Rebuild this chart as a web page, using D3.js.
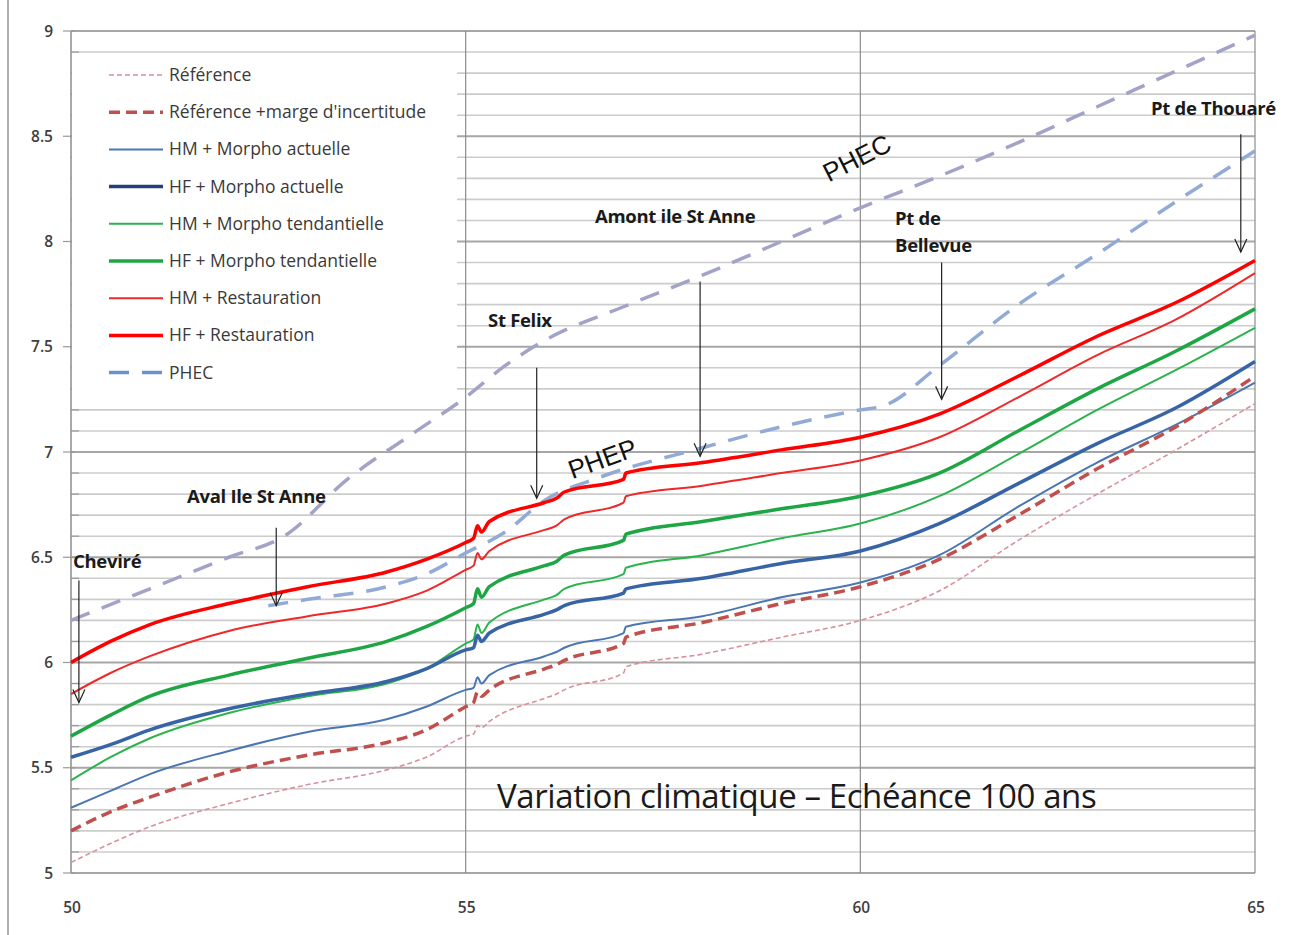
<!DOCTYPE html>
<html>
<head>
<meta charset="utf-8">
<script src="https://cdn.jsdelivr.net/npm/d3@7"></script>
<style>
  body { margin: 0; background: #fff; }
  svg { display: block; font-family: "Open Sans", sans-serif; }
</style>
</head>
<body>
<div id="container"></div>
<script>
// distance (km) and water levels
const xKm = [50, 50.5, 51, 52, 53, 54, 54.5, 55, 55.1, 55.15, 55.2, 55.3, 56, 56.15, 56.25, 57, 57.03, 58, 59, 60, 61, 62, 63, 64, 65];

const reference = [5.05, 5.14, 5.22, 5.33, 5.42, 5.49, 5.55, 5.65, 5.66, 5.70, 5.69, 5.72, 5.83, 5.85, 5.87, 5.95, 5.98, 6.04, 6.12, 6.20, 6.34, 6.58, 6.80, 7.01, 7.23];
const referenceMarge = [5.20, 5.29, 5.36, 5.48, 5.56, 5.62, 5.68, 5.79, 5.81, 5.86, 5.84, 5.87, 5.97, 5.99, 6.01, 6.09, 6.12, 6.19, 6.28, 6.36, 6.49, 6.70, 6.92, 7.12, 7.36];
const hmActuelle = [5.31, 5.39, 5.47, 5.58, 5.67, 5.73, 5.79, 5.87, 5.88, 5.93, 5.90, 5.94, 6.03, 6.05, 6.07, 6.14, 6.17, 6.22, 6.31, 6.38, 6.51, 6.74, 6.95, 7.13, 7.33];
const hfActuelle = [5.55, 5.61, 5.68, 5.78, 5.85, 5.91, 5.97, 6.06, 6.07, 6.13, 6.10, 6.14, 6.23, 6.25, 6.27, 6.33, 6.35, 6.40, 6.47, 6.53, 6.66, 6.85, 7.04, 7.21, 7.43];
const hmTendancielle = [5.44, 5.55, 5.64, 5.76, 5.84, 5.90, 5.97, 6.09, 6.11, 6.18, 6.14, 6.19, 6.30, 6.32, 6.35, 6.42, 6.45, 6.51, 6.59, 6.66, 6.79, 6.99, 7.20, 7.39, 7.59];
const hfTendancielle = [5.65, 5.75, 5.84, 5.94, 6.02, 6.10, 6.17, 6.26, 6.28, 6.35, 6.31, 6.36, 6.46, 6.48, 6.51, 6.58, 6.61, 6.67, 6.73, 6.79, 6.90, 7.10, 7.30, 7.48, 7.68];
const hmRestauration = [5.85, 5.95, 6.03, 6.15, 6.22, 6.28, 6.34, 6.44, 6.46, 6.52, 6.49, 6.53, 6.63, 6.65, 6.68, 6.76, 6.79, 6.84, 6.90, 6.96, 7.07, 7.26, 7.46, 7.63, 7.85];
const hfRestauration = [6.00, 6.10, 6.18, 6.28, 6.36, 6.43, 6.49, 6.57, 6.59, 6.65, 6.62, 6.67, 6.76, 6.78, 6.81, 6.87, 6.90, 6.95, 7.01, 7.07, 7.18, 7.36, 7.55, 7.71, 7.91];

const phecKm = [50, 51, 52, 52.7, 53.5, 54.3, 55, 55.5, 56, 57, 58, 59, 60, 61, 62, 63, 64, 65];
const phec = [6.20, 6.35, 6.50, 6.60, 6.87, 7.08, 7.26, 7.41, 7.53, 7.69, 7.84, 8.00, 8.16, 8.31, 8.47, 8.64, 8.81, 8.98];
const phepKm = [52.5, 53, 54, 54.5, 55, 55.5, 56, 56.7, 58, 59, 60, 60.3, 61, 62, 63, 64, 65];
const phep = [6.27, 6.30, 6.36, 6.42, 6.52, 6.62, 6.77, 6.88, 7.02, 7.12, 7.20, 7.22, 7.41, 7.70, 7.94, 8.19, 8.43];

const xTicks = [50, 55, 60, 65];
const yTicks = [5, 5.5, 6, 6.5, 7, 7.5, 8, 8.5, 9];

// arrow from "top" down to "tip" (levels), label baseline at "label"
const places = [
  { lines: ['Cheviré'], km: 50.1, top: 6.39, tip: 5.81, label: 6.45, left: 73 },
  { lines: ['Aval Ile St Anne'], km: 52.6, top: 6.64, tip: 6.27, label: 6.76, left: 187 },
  { lines: ['St Felix'], km: 55.9, top: 7.4, tip: 6.78, label: 7.595, left: 488 },
  { lines: ['Amont ile St Anne'], km: 57.97, top: 7.81, tip: 6.98, label: 8.09, left: 595 },
  { lines: ['Pt de', 'Bellevue'], km: 61.03, top: 7.9, tip: 7.25, label: 8.08, left: 895 },
  { lines: ['Pt de Thouaré'], km: 64.82, top: 8.51, tip: 7.95, label: 8.6, left: 1151 }
];

const width = 1292;
const height = 935;
const margin = { left: 71, right: 37, top: 31, bottom: 62 };

const x = d3.scaleLinear().domain([50, 65]).range([margin.left, width - margin.right]);
const y = d3.scaleLinear().domain([5, 9]).range([height - margin.bottom, margin.top]);

const svg = d3.select('#container').append('svg')
  .attr('width', width)
  .attr('height', height);

svg.append('line')
  .attr('x1', 8).attr('x2', 8).attr('y1', 0).attr('y2', height)
  .attr('stroke', '#b0b0b0').attr('stroke-width', 2);

// horizontal grid every 0.1
const minor = d3.range(50, 91).map(d => d / 10);
const isMajor = d => Math.round(d * 10) % 5 === 0;

svg.append('g').selectAll('line')
  .data(minor)
  .enter().append('line')
  .attr('x1', x(50)).attr('x2', x(65))
  .attr('y1', d => y(d)).attr('y2', d => y(d))
  .attr('stroke', d => (isMajor(d) ? '#a6a6a6' : '#cccccc'))
  .attr('stroke-width', d => (isMajor(d) ? 2 : 1.6));

svg.append('g').selectAll('line')
  .data([55, 60, 65])
  .enter().append('line')
  .attr('x1', d => x(d)).attr('x2', d => x(d))
  .attr('y1', y(9)).attr('y2', y(5))
  .attr('stroke', '#8c8c8c').attr('stroke-width', 1.2);

// axes
svg.append('line')
  .attr('x1', x(50)).attr('x2', x(50)).attr('y1', y(9)).attr('y2', y(5))
  .attr('stroke', '#8c8c8c').attr('stroke-width', 1.5);
svg.append('g').selectAll('line')
  .data(minor)
  .enter().append('line')
  .attr('x1', d => (isMajor(d) ? x(50) - 8 : x(50)))
  .attr('x2', d => (isMajor(d) ? x(50) + 4 : x(50) + 8))
  .attr('y1', d => y(d)).attr('y2', d => y(d))
  .attr('stroke', '#999').attr('stroke-width', 1.2);

svg.append('g').selectAll('text')
  .data(yTicks)
  .enter().append('text')
  .attr('x', x(50) - 18)
  .attr('y', d => y(d) + 5.5)
  .attr('text-anchor', 'end')
  .attr('font-size', '15.5px')
  .attr('font-weight', 600)
  .attr('fill', '#404040')
  .text(d => d);

svg.append('g').selectAll('text')
  .data(xTicks)
  .enter().append('text')
  .attr('x', d => x(d) + 1)
  .attr('y', height - margin.bottom + 40)
  .attr('text-anchor', 'middle')
  .attr('font-size', '15.5px')
  .attr('font-weight', 600)
  .attr('fill', '#404040')
  .text(d => d);

// series
const series = [
  { name: 'Référence', values: reference, km: xKm, color: '#d9909a', width: 1.6, dash: '5,3' },
  { name: "Référence +marge d'incertitude", values: referenceMarge, km: xKm, color: '#c0504d', width: 3.5, dash: '11,6' },
  { name: 'HM + Morpho actuelle', values: hmActuelle, km: xKm, color: '#4a76b4', width: 2 },
  { name: 'HF + Morpho actuelle', values: hfActuelle, km: xKm, color: '#3864a6', width: 3.5, legendColor: '#243f7a' },
  { name: 'HM + Morpho tendantielle', values: hmTendancielle, km: xKm, color: '#2bb34d', width: 2 },
  { name: 'HF + Morpho tendantielle', values: hfTendancielle, km: xKm, color: '#1ea645', width: 3.5 },
  { name: 'HM + Restauration', values: hmRestauration, km: xKm, color: '#f02828', width: 2 },
  { name: 'HF + Restauration', values: hfRestauration, km: xKm, color: '#ff0000', width: 3.5 },
  { name: 'PHEC', values: phec, km: phecKm, color: '#a3a3c8', width: 3.5, dash: '20,13', legendColor: '#6c90c8' }
];

const line = d3.line()
  .x(d => x(d[0]))
  .y(d => y(d[1]))
  .curve(d3.curveMonotoneX);

svg.append('path')
  .datum(phepKm.map((k, i) => [k, phep[i]]))
  .attr('d', line)
  .attr('fill', 'none')
  .attr('stroke', '#92aad6')
  .attr('stroke-width', 3.5)
  .attr('stroke-dasharray', '20,13');

svg.append('g').selectAll('path')
  .data(series.slice().reverse())
  .enter().append('path')
  .attr('d', s => line(s.km.map((k, i) => [k, s.values[i]])))
  .attr('fill', 'none')
  .attr('stroke', s => s.color)
  .attr('stroke-width', s => s.width)
  .attr('stroke-dasharray', s => s.dash || null)
  .attr('stroke-linejoin', 'round');

// legend
const legend = svg.append('g');
legend.append('rect')
  .attr('x', x(50) + 1).attr('y', 60)
  .attr('width', 385).attr('height', 338)
  .attr('fill', '#fff');

const item = legend.selectAll('.item')
  .data(series)
  .enter().append('g')
  .attr('class', 'item')
  .attr('transform', (d, i) => `translate(109,${75 + i * 37.2})`);

item.append('line')
  .attr('x1', 0).attr('x2', 54)
  .attr('stroke', d => d.legendColor || d.color)
  .attr('stroke-width', d => d.width)
  .attr('stroke-dasharray', d => d.dash || null);

item.append('text')
  .attr('x', 60).attr('y', 6)
  .attr('font-size', '17.5px')
  .attr('fill', '#3a3a3a')
  .text(d => d.name);

// place annotations with arrows
const ann = svg.append('g').selectAll('g')
  .data(places)
  .enter().append('g');

ann.append('line')
  .attr('x1', d => x(d.km)).attr('x2', d => x(d.km))
  .attr('y1', d => y(d.top)).attr('y2', d => y(d.tip))
  .attr('stroke', '#222').attr('stroke-width', 1.2);

ann.append('path')
  .attr('d', d => `M${x(d.km) - 6},${y(d.tip) - 13} L${x(d.km)},${y(d.tip)} L${x(d.km) + 6},${y(d.tip) - 13}`)
  .attr('fill', 'none')
  .attr('stroke', '#222').attr('stroke-width', 1.2);

ann.each(function (d) {
  const g = d3.select(this);
  d.lines.forEach((t, i) => {
    g.append('text')
      .attr('x', d.left)
      .attr('y', y(d.label) + i * 27)
      .attr('font-size', '18.5px')
      .attr('font-weight', 'bold')
      .attr('letter-spacing', '-0.3px')
      .attr('fill', '#1a1a1a')
      .text(t);
  });
});

svg.append('text')
  .attr('transform', `translate(${x(59.6)},${y(8.28)}) rotate(-27)`)
  .attr('font-family', 'Liberation Sans, Arial, sans-serif')
  .attr('font-size', '26px')
  .attr('fill', '#111')
  .text('PHEC');

svg.append('text')
  .attr('transform', `translate(${x(56.35)},${y(6.87)}) rotate(-20)`)
  .attr('font-family', 'Liberation Sans, Arial, sans-serif')
  .attr('font-size', '26px')
  .attr('fill', '#111')
  .text('PHEP');

svg.append('text')
  .attr('x', 497)
  .attr('y', 808)
  .attr('font-size', '33px')
  .attr('fill', '#1a1a1a')
  .attr('letter-spacing', '-0.4px')
  .text('Variation climatique – Echéance 100 ans');
</script>
</body>
</html>
